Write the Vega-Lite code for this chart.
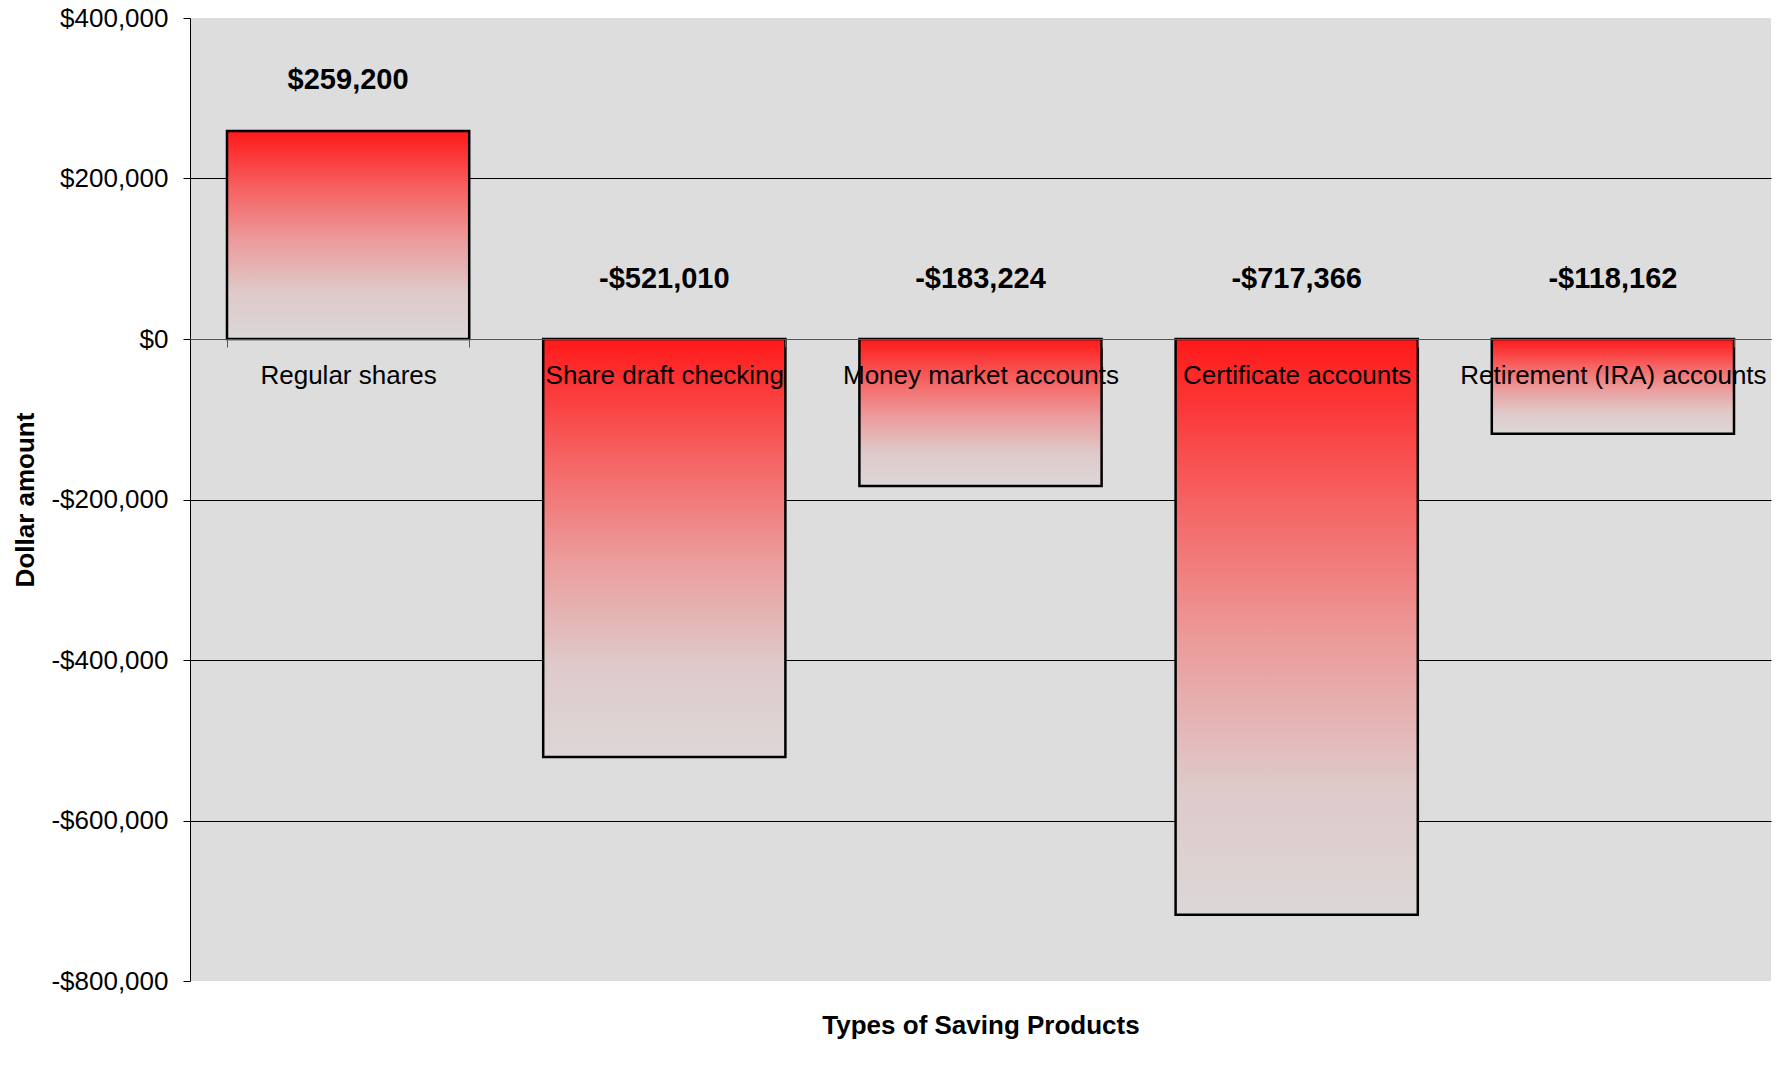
{
  "$schema": "https://vega.github.io/schema/vega-lite/v6.json",
  "width": 1581,
  "height": 963,
  "autosize": {"type": "none"},
  "padding": {"left": 190, "top": 18, "right": 20, "bottom": 100},
  "background": "white",
  "config": {"font": "Liberation Sans", "view": {"fill": "#dddddd", "stroke": null}},
  "data": {"values": [
    {"product": "Regular shares", "amount": 259200, "label": "$259,200"},
    {"product": "Share draft checking", "amount": -521010, "label": "-$521,010"},
    {"product": "Money market accounts", "amount": -183224, "label": "-$183,224"},
    {"product": "Certificate accounts", "amount": -717366, "label": "-$717,366"},
    {"product": "Retirement (IRA) accounts", "amount": -118162, "label": "-$118,162"}
  ]},
  "encoding": {
    "x": {
      "field": "product", "type": "nominal", "sort": null,
      "scale": {"paddingInner": 0.234, "paddingOuter": 0.117},
      "axis": {
        "title": "Types of Saving Products", "orient": "bottom", "offset": -642, "zindex": 1,
        "labelAngle": 0, "labelFontSize": 26, "labelColor": "black", "labelPadding": 28,
        "labelBaseline": "middle", "labelLimit": 0, "labelOverlap": false,
        "tickBand": "extent", "tickSize": 8, "tickColor": "#555555", "domainColor": "#555555",
        "titleFontSize": 26, "titleFontWeight": "bold", "titleColor": "black",
        "titleY": 686, "titleBaseline": "middle"
      }
    }
  },
  "layer": [
    {
      "mark": {
        "type": "bar",
        "color": {"gradient": "linear", "x1": 0, "y1": 0, "x2": 0, "y2": 1, "stops": [
          {"offset": 0, "color": "#ff1919"},
          {"offset": 0.28, "color": "#f66262"},
          {"offset": 0.52, "color": "#ec9a9a"},
          {"offset": 0.78, "color": "#dfcaca"},
          {"offset": 1, "color": "#dcd7d7"}
        ]},
        "stroke": "black", "strokeWidth": 2.5
      },
      "encoding": {
        "y": {
          "field": "amount", "type": "quantitative",
          "scale": {"domain": [-800000, 400000], "nice": false, "zero": false},
          "axis": {
            "title": "Dollar amount", "titleFontSize": 26, "titleFontWeight": "bold", "titleColor": "black",
            "titleAngle": -90, "titleX": -165, "titleY": 481.5, "titleAlign": "center", "titleBaseline": "middle",
            "values": [-800000, -600000, -400000, -200000, 0, 200000, 400000],
            "labelExpr": "datum.value < 0 ? '-$' + format(-datum.value, ',') : '$' + format(datum.value, ',')",
            "labelFontSize": 26, "labelColor": "black", "labelPadding": 15,
            "tickSize": 7, "tickColor": "black", "domainColor": "black",
            "grid": true, "gridColor": "black", "gridWidth": 1,
            "gridOpacity": {"condition": {"test": "datum.value == 400000 || datum.value == -800000", "value": 0}, "value": 1}
          }
        }
      }
    },
    {
      "transform": [{"filter": "datum.amount >= 0"}],
      "mark": {"type": "text", "dy": -51, "fontSize": 29, "fontWeight": "bold", "color": "black"},
      "encoding": {
        "y": {"field": "amount", "type": "quantitative"},
        "text": {"field": "label"}
      }
    },
    {
      "transform": [{"filter": "datum.amount < 0"}],
      "mark": {"type": "text", "dy": -60, "fontSize": 29, "fontWeight": "bold", "color": "black"},
      "encoding": {
        "y": {"datum": 0},
        "text": {"field": "label"}
      }
    }
  ]
}
